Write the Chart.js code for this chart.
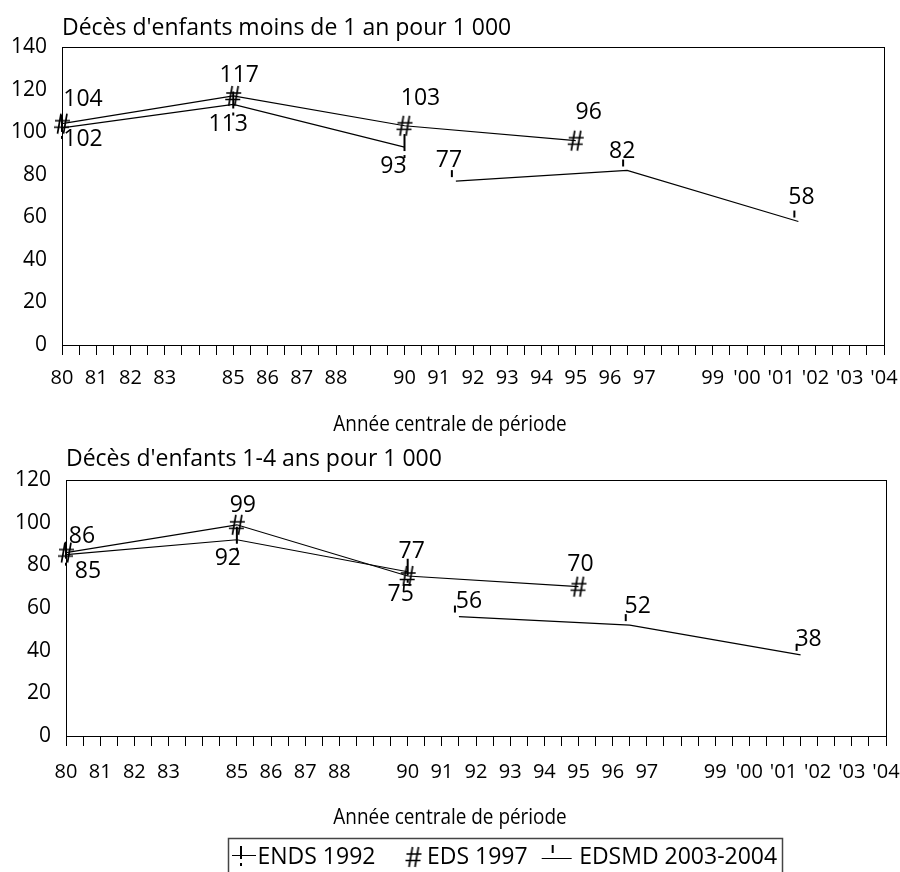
<!DOCTYPE html>
<html>
<head>
<meta charset="utf-8">
<script src="https://cdn.jsdelivr.net/npm/chart.js@4.4.0/dist/chart.umd.min.js"></script>
<style>
  html, body { margin: 0; padding: 0; background: #fff; }
  #wrap { position: relative; width: 900px; height: 872px; overflow: hidden; }
  #infant { position: absolute; left: 0; top: 0; }
  #child { position: absolute; left: 0; top: 440px; }
</style>
</head>
<body>
<div id="wrap">
  <canvas id="infant" width="900" height="440"></canvas>
  <canvas id="child" width="900" height="432"></canvas>
</div>
<script>
// Central year of each estimation period, per survey
const yearsENDS = [1980, 1985, 1990];
const yearsEDS = [1980, 1985, 1990, 1995];
const yearsEDSMD = [1991.5, 1996.5, 2001.5];

// Deaths of children under 1 year, per 1 000
const infantENDS = [102, 113, 93];
const infantEDS = [104, 117, 103, 96];
const infantEDSMD = [77, 82, 58];

// Deaths of children aged 1-4, per 1 000
const childENDS = [85, 92, 77];
const childEDS = [86, 99, 75, 70];
const childEDSMD = [56, 52, 38];

const seriesNames = ['ENDS 1992', 'EDS 1997', 'EDSMD 2003-2004'];
const chartTitles = ["Décès d'enfants moins de 1 an pour 1 000", "Décès d'enfants 1-4 ans pour 1 000"];
const xAxisTitle = 'Année centrale de période';
// Year labels from 1980 to 2004 (empty entries are left unlabelled)
const yearLabels = ['80', '81', '82', '83', '', '85', '86', '87', '88', '', '90', '91', '92', '93',
  '94', '95', '96', '97', '', '99', "'00", "'01", "'02", "'03", "'04"];

const FONT = '"Open Sans", sans-serif';
const LEGEND_FONT = 23;
const LEGEND_PAD = 20;

function canvasOf(w, h, draw) {
  const c = document.createElement('canvas');
  c.width = w; c.height = h;
  const g = c.getContext('2d');
  g.fillStyle = '#000'; g.strokeStyle = '#000';
  draw(g);
  return c;
}
function drawHash(g, cx, cy) {
  g.lineWidth = 1.7;
  g.beginPath();
  g.moveTo(cx - 1, cy - 10); g.lineTo(cx - 4.5, cy + 10);
  g.moveTo(cx + 5, cy - 10); g.lineTo(cx + 1.5, cy + 10);
  g.moveTo(cx - 7, cy - 3); g.lineTo(cx + 8, cy - 3);
  g.moveTo(cx - 8, cy + 3.5); g.lineTo(cx + 7, cy + 3.5);
  g.stroke();
}
// Point markers (each canvas is centred on its point)
const markENDS = canvasOf(12, 32, g => { g.fillRect(5, 3, 2, 17); g.fillRect(5, 24, 2, 3); });
const markEDS = canvasOf(20, 24, g => drawHash(g, 10, 12));
const markEDSMD = canvasOf(20, 30, g => g.fillRect(5, 4, 2, 7));

// Legend symbols: line sample with the series marker
const ICON_W = 60, ICON_H = 30, ICON_MID = 15;
const legendIcons = [
  canvasOf(ICON_W, ICON_H, g => {
    g.fillRect(26, ICON_MID - 2, 24, 1);
    g.fillRect(34, ICON_MID - 11, 2, 13);
    g.fillRect(34, ICON_MID + 6, 2, 3);
  }),
  canvasOf(ICON_W, ICON_H, g => drawHash(g, 38, ICON_MID)),
  canvasOf(ICON_W, ICON_H, g => {
    g.fillRect(14, ICON_MID + 1, 30, 1);
    g.fillRect(24, ICON_MID - 12, 2, 8);
  })
];

function toPoints(xs, ys) { return xs.map((x, i) => ({ x: x, y: ys[i] })); }

// Value labels drawn next to each marker, offsets in pixels
const valueLabels = {
  id: 'valueLabels',
  afterDatasetsDraw(chart) {
    const ctx = chart.ctx;
    ctx.save();
    ctx.font = '23px ' + FONT;
    ctx.fillStyle = '#000';
    ctx.textAlign = 'center';
    ctx.textBaseline = 'middle';
    chart.data.datasets.forEach((ds, i) => {
      const meta = chart.getDatasetMeta(i);
      meta.data.forEach((pt, j) => {
        const off = ds.labelOffsets[j];
        ctx.fillText(String(ds.data[j].y), pt.x + off[0], pt.y + off[1]);
      });
    });
    ctx.restore();
  }
};

// Chart heading above the plot (flush left) and axis caption below it (centred on the page)
const captions = {
  id: 'captions',
  afterDraw(chart, args, opts) {
    const ctx = chart.ctx;
    ctx.save();
    ctx.fillStyle = '#000';
    ctx.textBaseline = 'middle';
    ctx.font = opts.titleSize + 'px ' + FONT;
    ctx.textAlign = 'left';
    ctx.fillText(opts.title, chart.chartArea.left, opts.titleY);
    // narrow setting for the axis caption
    ctx.font = opts.axisSize + 'px ' + FONT;
    ctx.textAlign = 'center';
    ctx.translate(chart.width / 2, opts.axisY);
    ctx.scale(0.86, 1);
    ctx.fillText(opts.axis, 0, 0);
    ctx.restore();
  }
};

// Box around the plotting area
const plotFrame = {
  id: 'plotFrame',
  beforeDatasetsDraw(chart) {
    const { ctx, chartArea: a } = chart;
    ctx.save();
    ctx.strokeStyle = '#000';
    ctx.lineWidth = 1;
    ctx.strokeRect(Math.round(a.left) + 0.5, Math.round(a.top) + 0.5,
      Math.round(a.right - a.left), Math.round(a.bottom - a.top));
    ctx.restore();
  }
};

// Legend placement: left edge of the first entry and vertical centre of its text
const legendPlace = {
  id: 'legendPlace',
  afterLayout(chart, args, opts) {
    const lg = chart.legend;
    if (!lg || !lg.options.display) return;
    const w = lg.right - lg.left;
    const h = lg.bottom - lg.top;
    lg.left = opts.left - LEGEND_PAD;
    lg.right = lg.left + w;
    lg.top = opts.textY - LEGEND_PAD - LEGEND_FONT / 2;
    lg.bottom = lg.top + h;
  },
  afterDraw(chart) {
    const lg = chart.legend;
    if (!lg || !lg.options.display || !lg.legendHitBoxes.length) return;
    const hb = lg.legendHitBoxes;
    const last = hb[hb.length - 1];
    const left = hb[0].left + 2;
    const right = last.left + last.width + 5;
    const top = hb[0].top + LEGEND_FONT / 2 - 19;
    const ctx = chart.ctx;
    ctx.save();
    ctx.strokeStyle = '#444';
    ctx.lineWidth = 1.5;
    ctx.strokeRect(Math.round(left) + 0.5, Math.round(top) + 0.5, Math.round(right - left), 60);
    ctx.restore();
  }
};

function buildChart(el, cfg) {
  const base = {
    borderColor: '#000', backgroundColor: '#000', borderWidth: 1.2, fill: false, tension: 0,
    pointRadius: 4, pointHoverRadius: 4, clip: false
  };
  return new Chart(el, {
    type: 'line',
    data: {
      datasets: [
        Object.assign({}, base, { label: seriesNames[0], data: toPoints(yearsENDS, cfg.ends), pointStyle: markENDS, labelOffsets: cfg.offENDS }),
        Object.assign({}, base, { label: seriesNames[1], data: toPoints(yearsEDS, cfg.eds), pointStyle: markEDS, labelOffsets: cfg.offEDS }),
        Object.assign({}, base, { label: seriesNames[2], data: toPoints(yearsEDSMD, cfg.edsmd), pointStyle: markEDSMD, labelOffsets: cfg.offEDSMD })
      ]
    },
    options: {
      responsive: false,
      animation: false,
      events: [],
      layout: { padding: cfg.padding },
      scales: {
        x: {
          type: 'linear',
          min: 1980, max: 2004,
          border: { display: false },
          grid: { display: true, drawOnChartArea: false, drawTicks: true, tickLength: 10, color: '#000', lineWidth: 1 },
          ticks: {
            stepSize: 0.5, autoSkip: false, maxRotation: 0, minRotation: 0,
            padding: 0, color: '#000',
            font: { family: FONT, size: 20, lineHeight: cfg.xTickLine },
            callback: v => {
              const r = Math.round(v);
              return Math.abs(v - r) < 1e-6 ? yearLabels[r - 1980] : '';
            }
          },
          afterFit: s => { s.height = cfg.xHeight; }
        },
        y: {
          min: 0, max: cfg.yMax,
          border: { display: false },
          grid: { display: false, drawTicks: false },
          ticks: { stepSize: 20, padding: 15, color: '#000', font: { family: FONT, size: 21 } },
          afterFit: s => { s.width = cfg.yWidth; }
        }
      },
      plugins: {
        legend: cfg.legend ? {
          display: true,
          position: 'bottom',
          align: 'start',
          labels: {
            usePointStyle: true,
            pointStyleWidth: 20,
            padding: LEGEND_PAD,
            color: '#000',
            font: { family: FONT, size: LEGEND_FONT },
            generateLabels: chart => chart.data.datasets.map((ds, i) => ({
              text: ds.label, pointStyle: legendIcons[i], fillStyle: '#000', strokeStyle: '#000',
              lineWidth: 0, hidden: false, datasetIndex: i, fontColor: '#000'
            }))
          }
        } : { display: false },
        tooltip: { enabled: false },
        captions: { title: cfg.title, titleY: cfg.titleY, titleSize: 23, axis: xAxisTitle, axisY: cfg.axisY, axisSize: 22 },
        legendPlace: { left: 226, textY: 417 }
      }
    },
    plugins: [plotFrame, valueLabels, captions, legendPlace]
  });
}

buildChart(document.getElementById('infant'), {
  ends: infantENDS, eds: infantEDS, edsmd: infantEDSMD,
  offENDS: [[21, 12], [-5, 20], [-11, 19]],
  offEDS: [[21, -24], [6, -21], [16, -27], [13, -28]],
  offEDSMD: [[-7, -21], [-5, -19], [3, -24]],
  yMax: 140, yWidth: 62, xHeight: 95, xTickLine: 2.3,
  padding: { top: 47, right: 16, left: 0, bottom: 0 },
  title: chartTitles[0], titleY: 28, axisY: 425, legend: false
});

buildChart(document.getElementById('child'), {
  ends: childENDS, eds: childEDS, edsmd: childEDSMD,
  offENDS: [[22, 17], [-9, 19], [4, -20]],
  offEDS: [[16, -16], [6, -19], [-7, 18], [2, -22]],
  offEDSMD: [[10, -15], [8, -19], [8, -15]],
  yMax: 120, yWidth: 66, xHeight: 83, xTickLine: 2.6,
  padding: { top: 40, right: 14, left: 0, bottom: 0 },
  title: chartTitles[1], titleY: 19, axisY: 378, legend: true
});
</script>
</body>
</html>
